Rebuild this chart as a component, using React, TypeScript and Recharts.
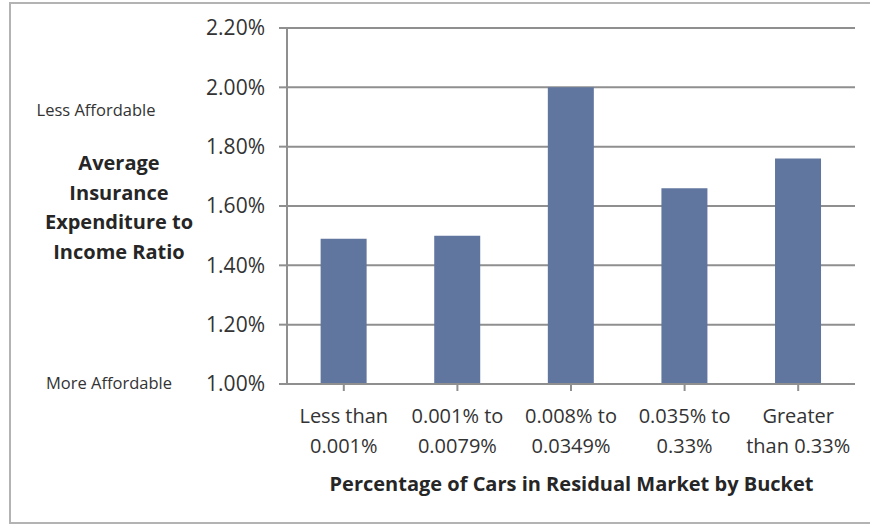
import React from "react";
import { BarChart, Bar, XAxis, YAxis, CartesianGrid } from "recharts";

// Bucket labels (line breaks split the two-line tick labels)
const buckets = [
  "Less than\n0.001%",
  "0.001% to\n0.0079%",
  "0.008% to\n0.0349%",
  "0.035% to\n0.33%",
  "Greater\nthan 0.33%",
];

// Average insurance expenditure to income ratio, in percent
const ratios = [1.49, 1.5, 2.0, 1.66, 1.76];

// Value-axis ticks, in percent
const yTicks = [1.0, 1.2, 1.4, 1.6, 1.8, 2.0, 2.2];

const yTitleLines = ["Average", "Insurance", "Expenditure to", "Income Ratio"];

const data = buckets.map((b, i) => ({ bucket: b, ratio: ratios[i] }));

const W = 870;
const H = 525;
const FONT = "'Open Sans', sans-serif";
const GRID = "#8f8f8f";
const TEXT = "#333333";

const BucketTick = (props: any) => {
  const { x, y, payload } = props;
  const lines = String(payload.value).split("\n");
  return (
    <g>
      {lines.map((ln: string, i: number) => (
        <text
          key={i}
          x={x}
          y={y + 31.5 + i * 30.5}
          textAnchor="middle"
          fontFamily={FONT}
          fontSize={20}
          fill={TEXT}
        >
          {ln}
        </text>
      ))}
    </g>
  );
};

export default function App() {
  return (
    <div style={{ position: "absolute", left: 0, top: 0, width: W, height: H, background: "#ffffff" }}>
      <BarChart
        width={W}
        height={H}
        data={data}
        margin={{ top: 28, right: 15, bottom: 0, left: 0 }}
        barCategoryGap="29.6%"
      >
        <CartesianGrid vertical={false} stroke={GRID} strokeWidth={2} />
        <XAxis
          dataKey="bucket"
          height={141}
          interval={0}
          tickSize={7}
          tickMargin={0}
          tickLine={{ stroke: GRID, strokeWidth: 2 }}
          axisLine={{ stroke: GRID, strokeWidth: 2 }}
          tick={<BucketTick />}
        />
        <YAxis
          width={287}
          domain={[1.0, 2.2]}
          ticks={yTicks}
          interval={0}
          tickSize={8}
          tickMargin={14}
          tickLine={{ stroke: GRID, strokeWidth: 2 }}
          axisLine={{ stroke: GRID, strokeWidth: 2 }}
          tickFormatter={(v: number) => `${v.toFixed(2)}%`}
          tick={{ fontFamily: FONT, fontSize: 21, fill: TEXT }}
        />
        <Bar dataKey="ratio" fill="#60769f" isAnimationActive={false} />
      </BarChart>
      <svg
        width={W}
        height={H}
        style={{ position: "absolute", left: 0, top: 0, pointerEvents: "none" }}
      >
        <rect x={10} y={3} width={W + 10} height={520} fill="none" stroke="#b3b3b3" strokeWidth={2} />
        <text x={96} y={116} textAnchor="middle" fontFamily={FONT} fontSize={16.5} fill={TEXT}>
          Less Affordable
        </text>
        <text x={109} y={389} textAnchor="middle" fontFamily={FONT} fontSize={16.5} fill={TEXT}>
          More Affordable
        </text>
        {yTitleLines.map((ln, i) => (
          <text
            key={ln}
            x={119}
            y={170 + i * 29.7}
            textAnchor="middle"
            fontFamily={FONT}
            fontSize={20}
            fontWeight="bold"
            fill="#262626"
          >
            {ln}
          </text>
        ))}
        <text x={571.5} y={491} textAnchor="middle" fontFamily={FONT} fontSize={20} fontWeight="bold" fill="#262626">
          Percentage of Cars in Residual Market by Bucket
        </text>
      </svg>
    </div>
  );
}
